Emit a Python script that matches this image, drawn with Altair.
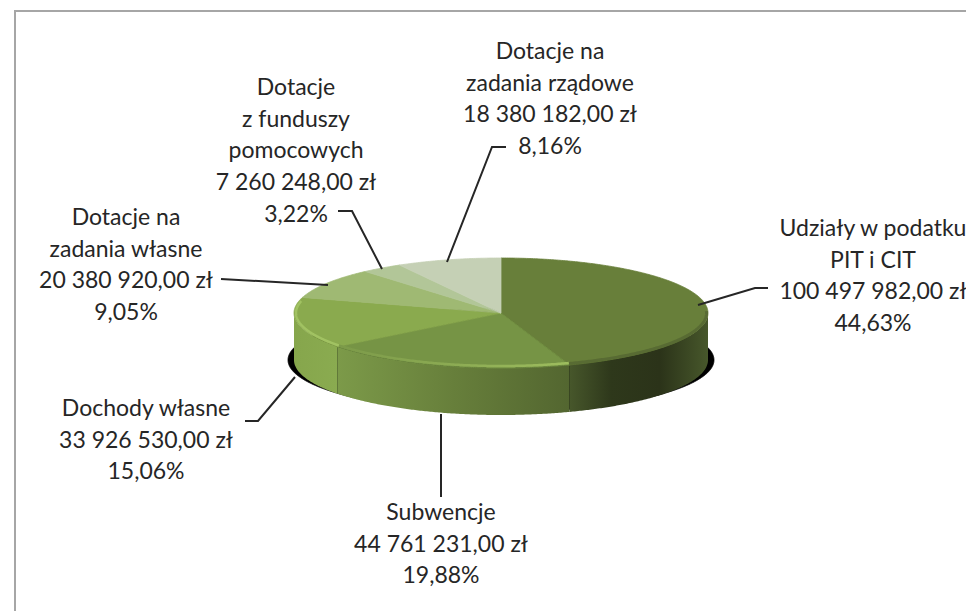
import math
import altair as alt
import pandas as pd

names = ["Udziały w podatku\nPIT i CIT", "Subwencje", "Dochody własne",
         "Dotacje na\nzadania własne", "Dotacje\nz funduszy\npomocowych",
         "Dotacje na\nzadania rządowe"]
amounts = ["100 497 982,00 zł", "44 761 231,00 zł", "33 926 530,00 zł",
           "20 380 920,00 zł", "7 260 248,00 zł", "18 380 182,00 zł"]
shares = [44.63, 19.88, 15.06, 9.05, 3.22, 8.16]
top_colors = ["#687f3a", "#769445", "#8aaa4e", "#9fb973", "#b2c698", "#c5d0b5"]

# layout
CX, CY, A, B, DEPTH = 501, 313, 207, 55, 47
label_x = [873, 441, 146, 126, 296, 550]
label_y = [229, 513, 409, 218, 88, 52]
leaders = [
    [(768, 288), (755, 288), (698, 305)],
    [(441, 414), (441, 497)],
    [(245, 421), (258, 421), (295, 377)],
    [(221, 279), (328, 285)],
    [(338, 211), (352, 211), (382, 269)],
    [(447, 262), (492, 147), (506, 147)],
]

X = alt.X("x:Q", axis=None, scale=alt.Scale(domain=[8, 966], range=[0, 958], nice=False, zero=False))
Y = alt.Y("y:Q", axis=None, scale=alt.Scale(domain=[8, 611], range=[0, 603], nice=False, zero=False))


def pt(deg, a=A, b=B, dy=0, cy=CY):
    r = math.radians(deg)
    return CX + a * math.sin(r), cy - b * math.cos(r) + dy


def arc(d0, d1, **kw):
    n = max(2, int(abs(d1 - d0)) * 2)
    return [pt(d0 + (d1 - d0) * i / n, **kw) for i in range(n + 1)]


def poly(points, fill, stroke=None, width=0.8):
    df = pd.DataFrame(points, columns=["x", "y"]).reset_index()
    return alt.Chart(df).mark_line(fill=fill, stroke=stroke or fill, strokeWidth=width).encode(
        x=X, y=Y, order="index:Q")


def grad(stops):
    return alt.Gradient(gradient="linear", x1=0, x2=1, y1=0, y2=0,
                        stops=[alt.GradientStop(offset=o, color=c) for o, c in stops])


def wall(d0, d1, fill):
    pts = arc(d0, d1)
    df = pd.DataFrame({"x": [p[0] for p in pts], "y": [p[1] for p in pts],
                       "y2": [p[1] + DEPTH for p in pts]})
    return alt.Chart(df).mark_area(color=fill, stroke=None).encode(x=X, y=Y, y2="y2:Q")


def rim(d0, d1, color, width=2.5, inset=2):
    pts = arc(d0, d1, a=A - inset, b=B - inset)
    df = pd.DataFrame(pts, columns=["x", "y"]).reset_index()
    return alt.Chart(df).mark_line(stroke=color, strokeWidth=width).encode(x=X, y=Y, order="index:Q")


# slice angles from the shares
total = sum(shares)
edges = [0.0]
for s in shares:
    edges.append(edges[-1] + s / total * 360)

layers = []
# frame of the chart area
frame = pd.DataFrame({"x": [15, 15, 966], "y": [611, 11, 11], "i": [0, 1, 2]})
layers.append(alt.Chart(frame).mark_line(stroke="#a6a6a6", strokeWidth=2).encode(x=X, y=Y, order="i:Q"))

# shadow below the pie
layers.append(poly(arc(0, 360, a=213, b=52, cy=CY + 47), "#000000"))

# side walls
layers.append(wall(edges[2], 270, grad([(0, "#86a64c"), (1, "#8aab50")])))
layers.append(wall(edges[1], edges[2], grad([(0, "#7c9a49"), (0.5, "#677f3b"), (1, "#536630")])))
layers.append(wall(90, edges[1], grad([(0, "#47572b"), (0.3, "#2e381b"), (0.65, "#2b3319"), (1, "#47572b")])))

# top surface
for i in range(len(shares)):
    layers.append(poly([(CX, CY)] + arc(edges[i], edges[i + 1]) + [(CX, CY)], top_colors[i]))

# bevel along the front rim
layers.append(rim(edges[2], 283, "#a1c262"))
layers.append(rim(edges[1], edges[2], grad([(0, "#7c9a49"), (1, "#9dbd5e")])))
layers.append(rim(88, edges[1], "#586b33", width=3, inset=1.5))

# leader lines
for line in leaders:
    df = pd.DataFrame(line, columns=["x", "y"]).reset_index()
    layers.append(alt.Chart(df).mark_line(stroke="#262626", strokeWidth=2).encode(x=X, y=Y, order="index:Q"))

# labels
labels = pd.DataFrame({
    "x": label_x, "y": label_y,
    "t": [f"{n}\n{a}\n{s:.2f}%".replace(".", ",") for n, a, s in zip(names, amounts, shares)],
})
layers.append(alt.Chart(labels).mark_text(
    font="Lato", fontSize=23, color="#262626", align="center", baseline="middle",
    lineBreak="\n", lineHeight=31.7).encode(x=X, y=Y, text="t:N"))

chart = alt.layer(*layers).properties(
    width=958, height=603, padding=0, autosize=alt.AutoSizeParams(type="none"),
    background="#ffffff",
).configure_view(stroke=None)

chart.save("out.html", embed_options={"renderer": "svg", "actions": False})
